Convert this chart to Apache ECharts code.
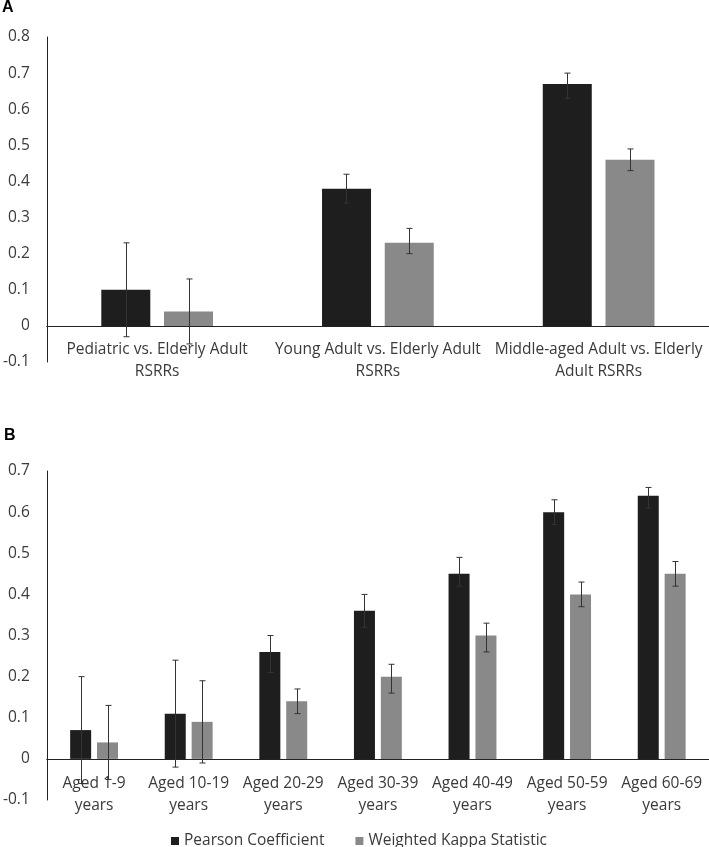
<!DOCTYPE html>
<html>
<head>
<meta charset="utf-8">
<script src="https://cdn.jsdelivr.net/npm/echarts@6/dist/echarts.min.js"></script>
<style>html,body{margin:0;padding:0;background:#fff;}#c{width:709px;height:847px;}</style>
</head>
<body>
<div id="c"></div>
<script>
// Panel A data
const catsA = ['Pediatric vs. Elderly Adult\nRSRRs', 'Young Adult vs. Elderly Adult\nRSRRs', 'Middle-aged Adult vs. Elderly\nAdult RSRRs'];
const pearsonA = [0.10, 0.38, 0.67];
const pearsonALow = [-0.03, 0.34, 0.63];
const pearsonAHigh = [0.23, 0.42, 0.70];
const kappaA = [0.04, 0.23, 0.46];
const kappaALow = [-0.05, 0.20, 0.43];
const kappaAHigh = [0.13, 0.27, 0.49];
const ticksA = {min: -0.1, max: 0.8, interval: 0.1};

// Panel B data
const catsB = ['Aged 1-9\nyears', 'Aged 10-19\nyears', 'Aged 20-29\nyears', 'Aged 30-39\nyears', 'Aged 40-49\nyears', 'Aged 50-59\nyears', 'Aged 60-69\nyears'];
const pearsonB = [0.07, 0.11, 0.26, 0.36, 0.45, 0.60, 0.64];
const pearsonBLow = [-0.06, -0.02, 0.21, 0.32, 0.42, 0.57, 0.61];
const pearsonBHigh = [0.20, 0.24, 0.30, 0.40, 0.49, 0.63, 0.66];
const kappaB = [0.04, 0.09, 0.14, 0.20, 0.30, 0.40, 0.45];
const kappaBLow = [-0.05, -0.01, 0.11, 0.16, 0.26, 0.37, 0.42];
const kappaBHigh = [0.13, 0.19, 0.17, 0.23, 0.33, 0.43, 0.48];
const ticksB = {min: -0.1, max: 0.7, interval: 0.1};

const seriesNames = ['Pearson Coefficient', 'Weighted Kappa Statistic'];

const BLACK = '#1e1e1e', GRAY = '#898989', TXT = '#3a3a3a', FONT = 'Open Sans', FS = 15.5;

function errSeries(name, gridIdx, low, high, offset) {
  return {
    type: 'custom', name: name + ' err', xAxisIndex: gridIdx, yAxisIndex: gridIdx, z: 5,
    silent: true,
    data: low.map((l, i) => [i, l, high[i]]),
    encode: {x: 0, y: [1, 2]},
    renderItem: function (params, api) {
      const i = api.value(0);
      const pHi = api.coord([i, api.value(2)]);
      const pLo = api.coord([i, api.value(1)]);
      const x = Math.round(pHi[0] + offset) + 0.5;
      const cap = 3;
      const st = {stroke: '#333333', lineWidth: 1};
      return {type: 'group', children: [
        {type: 'line', shape: {x1: x, y1: pHi[1], x2: x, y2: pLo[1]}, style: st},
        {type: 'line', shape: {x1: x - cap, y1: pHi[1], x2: x + cap, y2: pHi[1]}, style: st},
        {type: 'line', shape: {x1: x - cap, y1: pLo[1], x2: x + cap, y2: pLo[1]}, style: st}
      ]};
    }
  };
}

function xAxis(gridIdx, cats, margin) {
  return {
    type: 'category', gridIndex: gridIdx, data: cats,
    axisLine: {onZero: true, lineStyle: {color: '#222', width: 1}},
    axisTick: {show: false},
    axisLabel: {interval: 0, color: TXT, fontFamily: FONT, fontSize: FS, lineHeight: 21.5, margin: margin}
  };
}
function yAxis(gridIdx, t) {
  return {
    type: 'value', gridIndex: gridIdx, min: t.min, max: t.max, interval: t.interval,
    splitLine: {show: false},
    axisLine: {show: true, lineStyle: {color: '#222', width: 1}},
    axisTick: {show: false},
    axisLabel: {color: TXT, fontFamily: FONT, fontSize: FS, margin: 17,
      formatter: v => (Math.round(v * 10) / 10).toString()}
  };
}

const chart = echarts.init(document.getElementById('c'), null, {renderer: 'canvas'});
chart.setOption({
  animation: false,
  backgroundColor: '#fff',
  graphic: [
    {type: 'text', left: 2, top: 0, style: {text: 'A', font: 'bold 16px Liberation Sans', fill: '#000'}},
    {type: 'text', left: 4, top: 428, style: {text: 'B', font: 'bold 16px Liberation Sans', fill: '#000'}}
  ],
  legend: {
    data: seriesNames, left: 166, top: 828, itemWidth: 8, itemHeight: 8, itemGap: 31,
    icon: 'rect', textStyle: {color: TXT, fontFamily: FONT, fontSize: FS}
  },
  grid: [
    {left: 44, right: 0, top: 37, height: 325},
    {left: 44, right: 0, top: 471, height: 329}
  ],
  xAxis: [xAxis(0, catsA, 13 - 36), xAxis(1, catsB, 14 - 41)],
  yAxis: [yAxis(0, ticksA), yAxis(1, ticksB)],
  series: [
    {type: 'bar', name: seriesNames[0], xAxisIndex: 0, yAxisIndex: 0, data: pearsonA, barWidth: 49, barGap: '28%', itemStyle: {color: BLACK}},
    {type: 'bar', name: seriesNames[1], xAxisIndex: 0, yAxisIndex: 0, data: kappaA, barWidth: 49, barGap: '28%', itemStyle: {color: GRAY}},
    {type: 'bar', name: seriesNames[0], xAxisIndex: 1, yAxisIndex: 1, data: pearsonB, barWidth: 21, barGap: '28%', itemStyle: {color: BLACK}},
    {type: 'bar', name: seriesNames[1], xAxisIndex: 1, yAxisIndex: 1, data: kappaB, barWidth: 21, barGap: '28%', itemStyle: {color: GRAY}},
    errSeries(seriesNames[0], 0, pearsonALow, pearsonAHigh, -31.5),
    errSeries(seriesNames[1], 0, kappaALow, kappaAHigh, 31.5),
    errSeries(seriesNames[0], 1, pearsonBLow, pearsonBHigh, -13.5),
    errSeries(seriesNames[1], 1, kappaBLow, kappaBHigh, 13.5)
  ]
});
</script>
</body>
</html>
